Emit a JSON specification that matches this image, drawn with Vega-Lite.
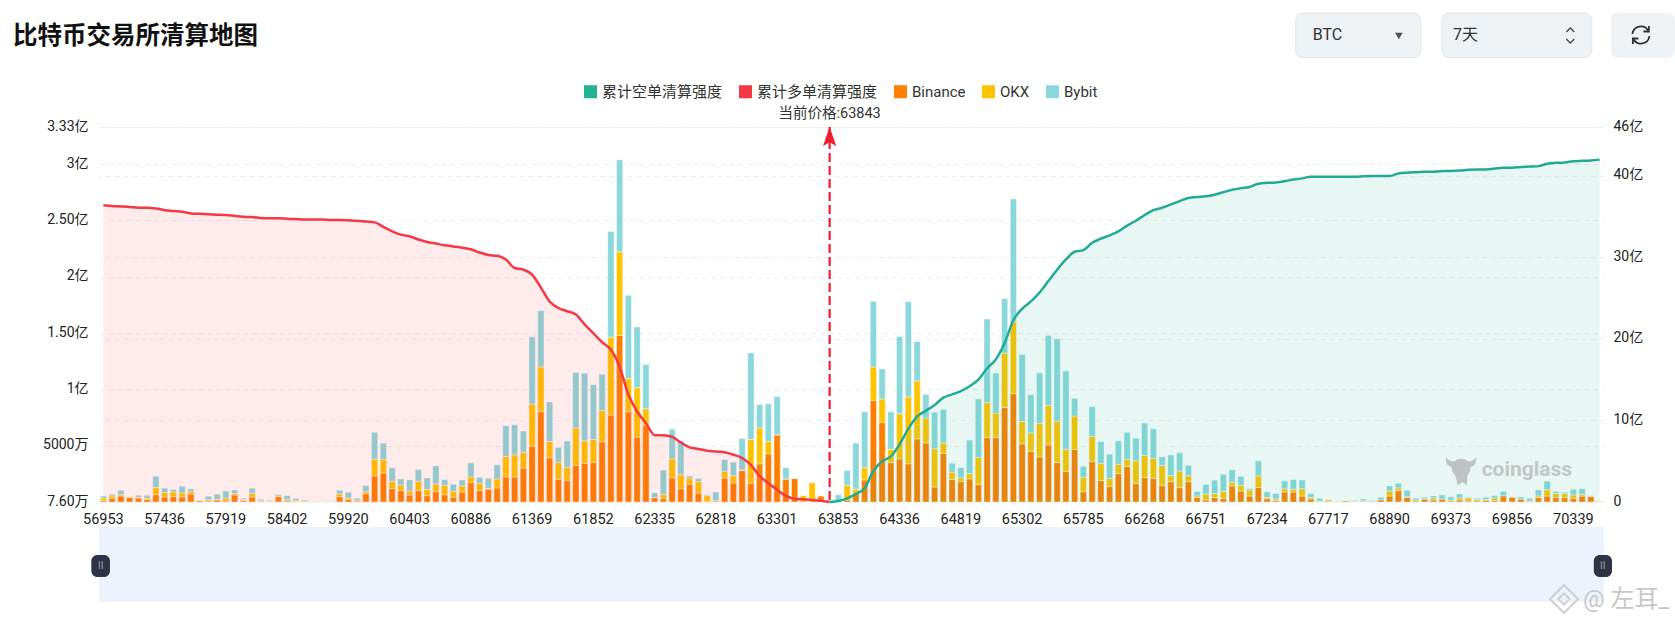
{
  "$schema": "https://vega.github.io/schema/vega-lite/v6.json",
  "autosize": "none",
  "padding": {"left": 99, "top": 127, "right": 71, "bottom": 123},
  "width": 1505,
  "height": 375,
  "background": "#ffffff",
  "title": {
    "text": "比特币交易所清算地图",
    "anchor": "start",
    "frame": "group",
    "dx": -86,
    "offset": -37,
    "font": "Noto Sans CJK SC",
    "fontSize": 24.5,
    "fontWeight": "bold",
    "color": "#111111"
  },
  "config": {
    "view": {"stroke": null},
    "text": {"font": "Roboto, 'Noto Sans CJK SC', sans-serif"}
  },
  "layer": [
    {
      "data": {"values": [
        {"price":"56953","Binance":0.012,"OKX":0.024,"Bybit":0.018,"long":36.4},
        {"price":"57022","Binance":0.03,"OKX":0.024,"Bybit":0.015,"long":36.3},
        {"price":"57091","Binance":0.053,"OKX":0.012,"Bybit":0.039,"long":36.25},
        {"price":"57160","Binance":0.039,"OKX":0.009,"Bybit":0,"long":36.2},
        {"price":"57229","Binance":0.036,"OKX":0.006,"Bybit":0.018,"long":36.1},
        {"price":"57298","Binance":0.021,"OKX":0.015,"Bybit":0.024,"long":36.1},
        {"price":"57367","Binance":0.065,"OKX":0.065,"Bybit":0.098,"long":36},
        {"price":"57436","Binance":0.045,"OKX":0.039,"Bybit":0.039,"long":35.8},
        {"price":"57505","Binance":0.048,"OKX":0.042,"Bybit":0.021,"long":35.7},
        {"price":"57574","Binance":0.045,"OKX":0.036,"Bybit":0.059,"long":35.6},
        {"price":"57643","Binance":0.071,"OKX":0.021,"Bybit":0.024,"long":35.4},
        {"price":"57712","Binance":0.012,"OKX":0.006,"Bybit":0,"long":35.35},
        {"price":"57781","Binance":0.009,"OKX":0.012,"Bybit":0.03,"long":35.3},
        {"price":"57850","Binance":0.018,"OKX":0.006,"Bybit":0.045,"long":35.25},
        {"price":"57919","Binance":0.009,"OKX":0.027,"Bybit":0.062,"long":35.2},
        {"price":"57988","Binance":0.062,"OKX":0.015,"Bybit":0.03,"long":35.1},
        {"price":"58057","Binance":0.012,"OKX":0.009,"Bybit":0.012,"long":35},
        {"price":"58126","Binance":0.045,"OKX":0.033,"Bybit":0.045,"long":34.95},
        {"price":"58195","Binance":0.006,"OKX":0.006,"Bybit":0.012,"long":34.85},
        {"price":"58264","Binance":0.003,"OKX":0.003,"Bybit":0.009,"long":34.8},
        {"price":"58333","Binance":0.048,"OKX":0.006,"Bybit":0.012,"long":34.8},
        {"price":"58402","Binance":0.009,"OKX":0.012,"Bybit":0.036,"long":34.75},
        {"price":"58471","Binance":0.006,"OKX":0.006,"Bybit":0.018,"long":34.7},
        {"price":"58540","Binance":0.003,"OKX":0.006,"Bybit":0.009,"long":34.65},
        {"price":"58609","Binance":0.003,"OKX":0.003,"Bybit":0,"long":34.65},
        {"price":"58678","Binance":0,"OKX":0.001,"Bybit":0.001,"long":34.65},
        {"price":"59782","Binance":0,"OKX":0.001,"Bybit":0.003,"long":34.6},
        {"price":"59851","Binance":0.048,"OKX":0.024,"Bybit":0.033,"long":34.6},
        {"price":"59920","Binance":0.021,"OKX":0.015,"Bybit":0.05,"long":34.55},
        {"price":"59989","Binance":0.009,"OKX":0.006,"Bybit":0.018,"long":34.5},
        {"price":"60058","Binance":0.074,"OKX":0.018,"Bybit":0.053,"long":34.4},
        {"price":"60127","Binance":0.232,"OKX":0.149,"Bybit":0.238,"long":34.3},
        {"price":"60196","Binance":0.258,"OKX":0.119,"Bybit":0.146,"long":33.75},
        {"price":"60265","Binance":0.119,"OKX":0.065,"Bybit":0.119,"long":33.2},
        {"price":"60334","Binance":0.101,"OKX":0.05,"Bybit":0.053,"long":32.8},
        {"price":"60403","Binance":0.062,"OKX":0.036,"Bybit":0.098,"long":32.6},
        {"price":"60472","Binance":0.101,"OKX":0.083,"Bybit":0.104,"long":32.2},
        {"price":"60541","Binance":0.056,"OKX":0.056,"Bybit":0.101,"long":31.9},
        {"price":"60610","Binance":0.092,"OKX":0.068,"Bybit":0.16,"long":31.7},
        {"price":"60679","Binance":0.065,"OKX":0.083,"Bybit":0.05,"long":31.5},
        {"price":"60748","Binance":0.042,"OKX":0.053,"Bybit":0.062,"long":31.35},
        {"price":"60817","Binance":0.089,"OKX":0.053,"Bybit":0.053,"long":31.2},
        {"price":"60886","Binance":0.172,"OKX":0.05,"Bybit":0.125,"long":31},
        {"price":"60955","Binance":0.101,"OKX":0.065,"Bybit":0.053,"long":30.6},
        {"price":"61024","Binance":0.113,"OKX":0.009,"Bybit":0.089,"long":30.3},
        {"price":"61093","Binance":0.125,"OKX":0.08,"Bybit":0.125,"long":30.2},
        {"price":"61162","Binance":0.223,"OKX":0.181,"Bybit":0.273,"long":29.75},
        {"price":"61231","Binance":0.223,"OKX":0.196,"Bybit":0.267,"long":28.7},
        {"price":"61300","Binance":0.3,"OKX":0.14,"Bybit":0.19,"long":28.5},
        {"price":"61369","Binance":0.496,"OKX":0.374,"Bybit":0.597,"long":27.9},
        {"price":"61438","Binance":0.802,"OKX":0.398,"Bybit":0.499,"long":26.3},
        {"price":"61507","Binance":0.392,"OKX":0.146,"Bybit":0.35,"long":24.6},
        {"price":"61576","Binance":0.202,"OKX":0.149,"Bybit":0.134,"long":23.8},
        {"price":"61645","Binance":0.193,"OKX":0.113,"Bybit":0.235,"long":23.4},
        {"price":"61714","Binance":0.327,"OKX":0.33,"Bybit":0.493,"long":23},
        {"price":"61783","Binance":0.342,"OKX":0.202,"Bybit":0.6,"long":21.8},
        {"price":"61852","Binance":0.35,"OKX":0.205,"Bybit":0.487,"long":20.7},
        {"price":"61921","Binance":0.535,"OKX":0.276,"Bybit":0.324,"long":19.6},
        {"price":"61990","Binance":0.772,"OKX":0.692,"Bybit":0.939,"long":18.7},
        {"price":"62059","Binance":1.479,"OKX":0.743,"Bybit":0.817,"long":16.6},
        {"price":"62128","Binance":0.802,"OKX":0.294,"Bybit":0.74,"long":13.2},
        {"price":"62197","Binance":0.576,"OKX":0.44,"Bybit":0.538,"long":11.1},
        {"price":"62266","Binance":0.683,"OKX":0.146,"Bybit":0.392,"long":9.7},
        {"price":"62335","Binance":0.039,"OKX":0,"Bybit":0.042,"long":8.2},
        {"price":"62404","Binance":0.03,"OKX":0.036,"Bybit":0.217,"long":8.2},
        {"price":"62473","Binance":0.214,"OKX":0.169,"Bybit":0.264,"long":8},
        {"price":"62542","Binance":0.119,"OKX":0.122,"Bybit":0.303,"long":7.3},
        {"price":"62611","Binance":0.157,"OKX":0.056,"Bybit":0.018,"long":6.7},
        {"price":"62680","Binance":0.08,"OKX":0.101,"Bybit":0.027,"long":6.5},
        {"price":"62749","Binance":0.003,"OKX":0.053,"Bybit":0.009,"long":6.3},
        {"price":"62818","Binance":0.009,"OKX":0.003,"Bybit":0.077,"long":6.2},
        {"price":"62887","Binance":0.214,"OKX":0.056,"Bybit":0.107,"long":6.1},
        {"price":"62956","Binance":0.169,"OKX":0.065,"Bybit":0.119,"long":5.8},
        {"price":"63025","Binance":0.279,"OKX":0.006,"Bybit":0.279,"long":5.4},
        {"price":"63094","Binance":0.166,"OKX":0.389,"Bybit":0.769,"long":4.55},
        {"price":"63163","Binance":0.339,"OKX":0.318,"Bybit":0.208,"long":3.2},
        {"price":"63232","Binance":0.428,"OKX":0.11,"Bybit":0.333,"long":2.3},
        {"price":"63301","Binance":0.597,"OKX":0,"Bybit":0.339,"long":1.5},
        {"price":"63370","Binance":0.205,"OKX":0,"Bybit":0.101,"long":0.75},
        {"price":"63439","Binance":0.211,"OKX":0,"Bybit":0,"long":0.4},
        {"price":"63508","Binance":0,"OKX":0.059,"Bybit":0,"long":0.33},
        {"price":"63577","Binance":0,"OKX":0.172,"Bybit":0,"long":0.25},
        {"price":"63646","Binance":0.056,"OKX":0,"Bybit":0,"long":0.16},
        {"price":"63784","Binance":0,"OKX":0,"Bybit":0,"long":0,"short":0},
        {"price":"63853","Binance":0,"OKX":0,"Bybit":0.065,"short":0.12},
        {"price":"63922","Binance":0.018,"OKX":0.131,"Bybit":0.131,"short":0.45},
        {"price":"63991","Binance":0.077,"OKX":0.036,"Bybit":0.41,"short":1},
        {"price":"64060","Binance":0.196,"OKX":0.11,"Bybit":0.496,"short":1.7},
        {"price":"64129","Binance":0.903,"OKX":0.297,"Bybit":0.582,"short":3.8},
        {"price":"64198","Binance":0.707,"OKX":0.208,"Bybit":0.267,"short":5},
        {"price":"64267","Binance":0.35,"OKX":0.119,"Bybit":0.333,"short":5.6},
        {"price":"64336","Binance":0.383,"OKX":0.401,"Bybit":0.686,"short":7.1},
        {"price":"64405","Binance":0.339,"OKX":0.594,"Bybit":0.846,"short":9},
        {"price":"64474","Binance":0.561,"OKX":0.514,"Bybit":0.35,"short":10.5},
        {"price":"64543","Binance":0.526,"OKX":0.22,"Bybit":0.211,"short":11.2},
        {"price":"64612","Binance":0.134,"OKX":0.339,"Bybit":0.324,"short":11.9},
        {"price":"64681","Binance":0.431,"OKX":0.092,"Bybit":0.3,"short":12.8},
        {"price":"64750","Binance":0.199,"OKX":0.065,"Bybit":0.08,"short":13.2},
        {"price":"64819","Binance":0.181,"OKX":0.033,"Bybit":0.092,"short":13.6},
        {"price":"64888","Binance":0.205,"OKX":0.048,"Bybit":0.297,"short":14.2},
        {"price":"64957","Binance":0.154,"OKX":0.241,"Bybit":0.52,"short":15},
        {"price":"65026","Binance":0.573,"OKX":0.309,"Bybit":0.743,"short":16.4},
        {"price":"65095","Binance":0.573,"OKX":0.217,"Bybit":0.356,"short":17.5},
        {"price":"65164","Binance":0.838,"OKX":0.484,"Bybit":0.484,"short":19.5},
        {"price":"65233","Binance":0.962,"OKX":0.636,"Bybit":1.093,"short":22.3},
        {"price":"65302","Binance":0.517,"OKX":0.199,"Bybit":0.594,"short":23.7},
        {"price":"65371","Binance":0.448,"OKX":0.166,"Bybit":0.339,"short":24.6},
        {"price":"65440","Binance":0.401,"OKX":0.297,"Bybit":0.448,"short":25.7},
        {"price":"65509","Binance":0.508,"OKX":0.35,"Bybit":0.621,"short":27.1},
        {"price":"65578","Binance":0.35,"OKX":0.368,"Bybit":0.731,"short":28.5},
        {"price":"65647","Binance":0.27,"OKX":0.199,"Bybit":0.695,"short":29.75},
        {"price":"65716","Binance":0.466,"OKX":0.297,"Bybit":0.157,"short":30.7},
        {"price":"65785","Binance":0.092,"OKX":0.128,"Bybit":0.098,"short":30.9},
        {"price":"65854","Binance":0.359,"OKX":0.223,"Bybit":0.264,"short":31.8},
        {"price":"65923","Binance":0.19,"OKX":0.151,"Bybit":0.196,"short":32.3},
        {"price":"65992","Binance":0.137,"OKX":0.071,"Bybit":0.217,"short":32.7},
        {"price":"66061","Binance":0.252,"OKX":0.083,"Bybit":0.208,"short":33.2},
        {"price":"66130","Binance":0.315,"OKX":0.065,"Bybit":0.238,"short":33.9},
        {"price":"66199","Binance":0.163,"OKX":0.202,"Bybit":0.202,"short":34.5},
        {"price":"66268","Binance":0.217,"OKX":0.196,"Bybit":0.288,"short":35.2},
        {"price":"66337","Binance":0.208,"OKX":0.178,"Bybit":0.264,"short":35.8},
        {"price":"66406","Binance":0.146,"OKX":0.178,"Bybit":0.077,"short":36.1},
        {"price":"66475","Binance":0.181,"OKX":0.053,"Bybit":0.184,"short":36.5},
        {"price":"66544","Binance":0.128,"OKX":0.146,"Bybit":0.163,"short":36.9},
        {"price":"66613","Binance":0.181,"OKX":0.053,"Bybit":0.092,"short":37.3},
        {"price":"66682","Binance":0.039,"OKX":0.015,"Bybit":0.039,"short":37.4},
        {"price":"66751","Binance":0.018,"OKX":0.053,"Bybit":0.086,"short":37.5},
        {"price":"66820","Binance":0.039,"OKX":0.036,"Bybit":0.119,"short":37.7},
        {"price":"66889","Binance":0.03,"OKX":0.065,"Bybit":0.151,"short":38},
        {"price":"66958","Binance":0.143,"OKX":0.033,"Bybit":0.11,"short":38.3},
        {"price":"67027","Binance":0.098,"OKX":0.05,"Bybit":0.08,"short":38.5},
        {"price":"67096","Binance":0.053,"OKX":0.053,"Bybit":0.012,"short":38.65},
        {"price":"67165","Binance":0.128,"OKX":0.104,"Bybit":0.134,"short":39.05},
        {"price":"67234","Binance":0.03,"OKX":0.012,"Bybit":0.048,"short":39.15},
        {"price":"67303","Binance":0.012,"OKX":0.015,"Bybit":0.048,"short":39.2},
        {"price":"67372","Binance":0.089,"OKX":0.027,"Bybit":0.071,"short":39.35},
        {"price":"67441","Binance":0.089,"OKX":0.024,"Bybit":0.086,"short":39.55},
        {"price":"67510","Binance":0.053,"OKX":0.065,"Bybit":0.077,"short":39.7},
        {"price":"67579","Binance":0.027,"OKX":0.015,"Bybit":0.033,"short":39.9},
        {"price":"67648","Binance":0.003,"OKX":0.006,"Bybit":0.024,"short":39.9},
        {"price":"67717","Binance":0.003,"OKX":0.018,"Bybit":0,"short":39.9},
        {"price":"67786","Binance":0,"OKX":0.003,"Bybit":0.003,"short":39.9},
        {"price":"67855","Binance":0.009,"OKX":0.006,"Bybit":0,"short":39.9},
        {"price":"67924","Binance":0.006,"OKX":0.003,"Bybit":0.006,"short":39.9},
        {"price":"67993","Binance":0.006,"OKX":0.006,"Bybit":0.015,"short":39.95},
        {"price":"68752","Binance":0.003,"OKX":0.003,"Bybit":0.009,"short":40},
        {"price":"68821","Binance":0.021,"OKX":0,"Bybit":0.021,"short":40},
        {"price":"68890","Binance":0.053,"OKX":0.045,"Bybit":0.045,"short":40},
        {"price":"68959","Binance":0.101,"OKX":0.024,"Bybit":0.042,"short":40.3},
        {"price":"69028","Binance":0.039,"OKX":0.009,"Bybit":0.056,"short":40.4},
        {"price":"69097","Binance":0.009,"OKX":0.009,"Bybit":0.015,"short":40.45},
        {"price":"69166","Binance":0.027,"OKX":0,"Bybit":0.015,"short":40.5},
        {"price":"69235","Binance":0.018,"OKX":0.018,"Bybit":0.018,"short":40.5},
        {"price":"69304","Binance":0.027,"OKX":0,"Bybit":0.036,"short":40.6},
        {"price":"69373","Binance":0.009,"OKX":0.009,"Bybit":0.027,"short":40.6},
        {"price":"69442","Binance":0.018,"OKX":0.018,"Bybit":0.036,"short":40.65},
        {"price":"69511","Binance":0.009,"OKX":0.027,"Bybit":0.006,"short":40.75},
        {"price":"69580","Binance":0.009,"OKX":0.015,"Bybit":0.009,"short":40.8},
        {"price":"69649","Binance":0.015,"OKX":0.006,"Bybit":0.021,"short":40.8},
        {"price":"69718","Binance":0.012,"OKX":0.024,"Bybit":0.021,"short":40.9},
        {"price":"69787","Binance":0.056,"OKX":0,"Bybit":0.039,"short":41},
        {"price":"69856","Binance":0.045,"OKX":0,"Bybit":0,"short":41},
        {"price":"69925","Binance":0.027,"OKX":0,"Bybit":0.018,"short":41.1},
        {"price":"69994","Binance":0.009,"OKX":0,"Bybit":0.024,"short":41.15},
        {"price":"70063","Binance":0.039,"OKX":0.015,"Bybit":0.053,"short":41.2},
        {"price":"70132","Binance":0.053,"OKX":0.056,"Bybit":0.077,"short":41.5},
        {"price":"70201","Binance":0.039,"OKX":0.036,"Bybit":0.018,"short":41.6},
        {"price":"70270","Binance":0.039,"OKX":0.036,"Bybit":0.012,"short":41.65},
        {"price":"70339","Binance":0.033,"OKX":0.03,"Bybit":0.05,"short":41.8},
        {"price":"70408","Binance":0.053,"OKX":0.015,"Bybit":0.05,"short":41.85},
        {"price":"70477","Binance":0.048,"OKX":0.006,"Bybit":0.003,"short":41.9},
        {"price":"70546","Binance":0.006,"OKX":0.003,"Bybit":0,"short":42}
      ]},
      "encoding": {
        "x": {
          "field": "price",
          "type": "ordinal",
          "title": null,
          "scale": {"paddingInner": 0.28, "paddingOuter": 0.14},
          "axis": {
            "values": ["56953","57436","57919","58402","59920","60403","60886","61369","61852","62335","62818","63301","63853","64336","64819","65302","65785","66268","66751","67234","67717","68890","69373","69856","70339"],
            "labelAngle": 0,
            "labelFont": "Roboto",
            "labelFontSize": 14.5,
            "labelColor": "#222222",
            "labelPadding": 10,
            "labelOverlap": false,
            "ticks": false,
            "domain": false,
            "grid": false
          }
        }
      },
      "layer": [
        {
          "transform": [
            {"fold": ["Binance","OKX","Bybit"], "as": ["exchange","value"]},
            {"calculate": "indexof(['Binance','OKX','Bybit'], datum.exchange)", "as": "rank"}
          ],
          "mark": {"type": "bar", "stroke": "#ffffff", "strokeOpacity": 0.45, "strokeWidth": 1},
          "encoding": {
            "y": {
              "field": "value",
              "type": "quantitative",
              "title": null,
              "scale": {"domain": [0, 3.33], "nice": false},
              "axis": {
                "orient": "left",
                "values": [0, 0.5, 1, 1.5, 2, 2.5, 3, 3.33],
                "labelExpr": "datum.value == 0 ? '7.60万' : datum.value == 0.5 ? '5000万' : datum.value == 1.5 ? '1.50亿' : datum.value == 2.5 ? '2.50亿' : datum.value + '亿'",
                "labelFont": "Roboto, 'Noto Sans CJK SC', sans-serif",
                "labelFontSize": 14,
                "labelColor": "#222222",
                "labelPadding": 11,
                "labelOffset": -1,
                "ticks": false,
                "domain": false,
                "grid": true,
                "gridColor": "#eeeeee",
                "gridDash": [5, 4]
              }
            },
            "color": {
              "field": "exchange",
              "type": "nominal",
              "scale": {
                "domain": ["累计空单清算强度","累计多单清算强度","Binance","OKX","Bybit"],
                "range": ["#22b295","#f63845","#ff8000","#ffc400","#8bd8dc"]
              },
              "legend": {
                "orient": "none",
                "legendX": 484,
                "legendY": -43,
                "direction": "horizontal",
                "columns": 5,
                "columnPadding": 15,
                "title": null,
                "symbolType": "square",
                "symbolSize": 169,
                "symbolStrokeWidth": 0,
                "symbolOpacity": 1,
                "labelFont": "Roboto, 'Noto Sans CJK SC', sans-serif",
                "labelFontSize": 15,
                "labelColor": "#333333",
                "labelOffset": 4
              }
            },
            "order": {"field": "rank", "type": "quantitative"}
          }
        },
        {
          "layer": [
            {
              "mark": {"type": "area", "color": "#f63845", "opacity": 0.1, "interpolate": "monotone"},
              "encoding": {
                "y": {
                  "field": "long",
                  "type": "quantitative",
                  "title": null,
                  "scale": {"domain": [0, 46], "nice": false},
                  "axis": {
                    "orient": "right",
                    "values": [0, 10, 20, 30, 40, 46],
                    "labelExpr": "datum.value == 0 ? '0' : datum.value + '亿'",
                    "labelFont": "Roboto, 'Noto Sans CJK SC', sans-serif",
                    "labelFontSize": 14,
                    "labelColor": "#222222",
                    "labelPadding": 9,
                    "labelOffset": -1,
                    "ticks": false,
                    "domain": false,
                    "grid": true,
                    "gridColor": "#eeeeee",
                    "gridDash": [5, 4]
                  }
                }
              }
            },
            {
              "mark": {"type": "area", "color": "#22b295", "opacity": 0.1, "interpolate": "monotone"},
              "encoding": {
                "y": {"field": "short", "type": "quantitative", "title": null, "scale": {"domain": [0, 46], "nice": false}}
              }
            },
            {
              "mark": {"type": "line", "color": "#f63845", "strokeWidth": 2.5, "interpolate": "monotone"},
              "encoding": {
                "y": {"field": "long", "type": "quantitative", "title": null, "scale": {"domain": [0, 46], "nice": false}}
              }
            },
            {
              "mark": {"type": "line", "color": "#22ab94", "strokeWidth": 2.5, "interpolate": "monotone"},
              "encoding": {
                "y": {"field": "short", "type": "quantitative", "title": null, "scale": {"domain": [0, 46], "nice": false}}
              }
            },
            {
              "data": {"values": [{"price": "63784", "top": 46, "bottom": 0, "arrow": 44.83, "label": "当前价格:63843"}]},
              "mark": {"type": "rule", "color": "#ee1c2e", "strokeWidth": 2.2, "strokeDash": [9, 4]},
              "encoding": {
                "y": {"field": "top", "type": "quantitative", "title": null, "scale": {"domain": [0, 46], "nice": false}},
                "y2": {"field": "bottom"}
              }
            },
            {
              "data": {"values": [{"price": "63784", "top": 46, "bottom": 0, "arrow": 44.83, "label": "当前价格:63843"}]},
              "mark": {"type": "point", "shape": "M0,-1L0.7,1L0,0.6L-0.7,1Z", "filled": true, "color": "#ee1c2e", "opacity": 1, "size": 361},
              "encoding": {
                "y": {"field": "arrow", "type": "quantitative", "title": null, "scale": {"domain": [0, 46], "nice": false}}
              }
            },
            {
              "data": {"values": [{"price": "63784", "top": 46, "bottom": 0, "arrow": 44.83, "label": "当前价格:63843"}]},
              "mark": {"type": "text", "fontSize": 14.5, "color": "#333333", "dy": -13.5},
              "encoding": {
                "y": {"field": "top", "type": "quantitative", "title": null, "scale": {"domain": [0, 46], "nice": false}},
                "text": {"field": "label"}
              }
            }
          ]
        }
      ],
      "resolve": {"scale": {"y": "independent"}}
    },
    {
      "encoding": {
        "x": {"scale": {"domain": [0, 100], "nice": false, "zero": false}, "axis": null, "title": null},
        "y": {"scale": {"domain": [0, 100], "nice": false, "zero": false}, "axis": null, "title": null}
      },
      "layer": [
        {
          "data": {"values": [{"part": "slider"}]},
          "mark": {"type": "rect", "color": "#eef2fd"},
          "encoding": {
            "x": {"datum": 0, "type": "quantitative", "scale": {"domain": [0, 100], "nice": false, "zero": false}, "axis": null},
            "x2": {"datum": 100},
            "y": {"datum": -6.67, "type": "quantitative", "scale": {"domain": [0, 100], "nice": false, "zero": false}, "axis": null},
            "y2": {"datum": -26.67}
          }
        },
        {
          "data": {"values": [{"part": "handle"}]},
          "mark": {"type": "rect", "color": "#2f3345", "cornerRadius": 6},
          "encoding": {
            "x": {"datum": -0.51, "type": "quantitative", "scale": {"domain": [0, 100], "nice": false, "zero": false}, "axis": null},
            "x2": {"datum": 0.73},
            "y": {"datum": -14.13, "type": "quantitative", "scale": {"domain": [0, 100], "nice": false, "zero": false}, "axis": null},
            "y2": {"datum": -20}
          }
        },
        {
          "data": {"values": [{"part": "handle"}]},
          "mark": {"type": "rect", "color": "#2f3345", "cornerRadius": 6},
          "encoding": {
            "x": {"datum": 99.32, "type": "quantitative", "scale": {"domain": [0, 100], "nice": false, "zero": false}, "axis": null},
            "x2": {"datum": 100.53},
            "y": {"datum": -14.13, "type": "quantitative", "scale": {"domain": [0, 100], "nice": false, "zero": false}, "axis": null},
            "y2": {"datum": -20}
          }
        },
        {
          "data": {"values": [{"label": "II"}]},
          "mark": {"type": "text", "fontSize": 10, "color": "#9a9dab"},
          "encoding": {
            "x": {"datum": 0.11, "type": "quantitative", "scale": {"domain": [0, 100], "nice": false, "zero": false}, "axis": null},
            "y": {"datum": -17.07, "type": "quantitative", "scale": {"domain": [0, 100], "nice": false, "zero": false}, "axis": null},
            "text": {"field": "label"}
          }
        },
        {
          "data": {"values": [{"label": "II"}]},
          "mark": {"type": "text", "fontSize": 10, "color": "#9a9dab"},
          "encoding": {
            "x": {"datum": 99.92, "type": "quantitative", "scale": {"domain": [0, 100], "nice": false, "zero": false}, "axis": null},
            "y": {"datum": -17.07, "type": "quantitative", "scale": {"domain": [0, 100], "nice": false, "zero": false}, "axis": null},
            "text": {"field": "label"}
          }
        },
        {
          "data": {"values": [{"part": "button"}]},
          "mark": {"type": "rect", "color": "#eef2f5", "stroke": "#e2e7ea", "cornerRadius": 7},
          "encoding": {
            "x": {"datum": 79.52, "type": "quantitative", "scale": {"domain": [0, 100], "nice": false, "zero": false}, "axis": null},
            "x2": {"datum": 87.83},
            "y": {"datum": 130.4, "type": "quantitative", "scale": {"domain": [0, 100], "nice": false, "zero": false}, "axis": null},
            "y2": {"datum": 118.5}
          }
        },
        {
          "data": {"values": [{"part": "button"}]},
          "mark": {"type": "rect", "color": "#eef2f5", "stroke": "#e2e7ea", "cornerRadius": 7},
          "encoding": {
            "x": {"datum": 89.23, "type": "quantitative", "scale": {"domain": [0, 100], "nice": false, "zero": false}, "axis": null},
            "x2": {"datum": 99.19},
            "y": {"datum": 130.4, "type": "quantitative", "scale": {"domain": [0, 100], "nice": false, "zero": false}, "axis": null},
            "y2": {"datum": 118.5}
          }
        },
        {
          "data": {"values": [{"part": "button"}]},
          "mark": {"type": "rect", "color": "#eef2f5", "cornerRadius": 7},
          "encoding": {
            "x": {"datum": 100.47, "type": "quantitative", "scale": {"domain": [0, 100], "nice": false, "zero": false}, "axis": null},
            "x2": {"datum": 104.7},
            "y": {"datum": 130.4, "type": "quantitative", "scale": {"domain": [0, 100], "nice": false, "zero": false}, "axis": null},
            "y2": {"datum": 118.5}
          }
        },
        {
          "data": {"values": [{"label": "BTC"}]},
          "mark": {"type": "text", "align": "left", "fontSize": 16, "color": "#333333"},
          "encoding": {
            "x": {"datum": 80.65, "type": "quantitative", "scale": {"domain": [0, 100], "nice": false, "zero": false}, "axis": null},
            "y": {"datum": 124.53, "type": "quantitative", "scale": {"domain": [0, 100], "nice": false, "zero": false}, "axis": null},
            "text": {"field": "label"}
          }
        },
        {
          "data": {"values": [{"label": "7天"}]},
          "mark": {"type": "text", "align": "left", "fontSize": 16, "color": "#333333"},
          "encoding": {
            "x": {"datum": 89.96, "type": "quantitative", "scale": {"domain": [0, 100], "nice": false, "zero": false}, "axis": null},
            "y": {"datum": 124.53, "type": "quantitative", "scale": {"domain": [0, 100], "nice": false, "zero": false}, "axis": null},
            "text": {"field": "label"}
          }
        },
        {
          "data": {"values": [{"part": "caret"}]},
          "mark": {"type": "point", "shape": "triangle-down", "filled": true, "color": "#555555", "opacity": 1, "size": 60},
          "encoding": {
            "x": {"datum": 86.37, "type": "quantitative", "scale": {"domain": [0, 100], "nice": false, "zero": false}, "axis": null},
            "y": {"datum": 124.27, "type": "quantitative", "scale": {"domain": [0, 100], "nice": false, "zero": false}, "axis": null}
          }
        },
        {
          "data": {"values": [{"part": "chevron"}]},
          "mark": {"type": "point", "shape": "M-1,0.5L0,-0.5L1,0.5", "filled": false, "color": "#444444", "opacity": 1, "strokeWidth": 1.3, "size": 64},
          "encoding": {
            "x": {"datum": 97.76, "type": "quantitative", "scale": {"domain": [0, 100], "nice": false, "zero": false}, "axis": null},
            "y": {"datum": 125.87, "type": "quantitative", "scale": {"domain": [0, 100], "nice": false, "zero": false}, "axis": null}
          }
        },
        {
          "data": {"values": [{"part": "chevron"}]},
          "mark": {"type": "point", "shape": "M-1,-0.5L0,0.5L1,-0.5", "filled": false, "color": "#444444", "opacity": 1, "strokeWidth": 1.3, "size": 64},
          "encoding": {
            "x": {"datum": 97.76, "type": "quantitative", "scale": {"domain": [0, 100], "nice": false, "zero": false}, "axis": null},
            "y": {"datum": 122.93, "type": "quantitative", "scale": {"domain": [0, 100], "nice": false, "zero": false}, "axis": null}
          }
        },
        {
          "data": {"values": [{"part": "refresh"}]},
          "mark": {"type": "point", "shape": "M-0.85,-0.1A0.85,0.85 0 0 1 0.75,-0.4M0.85,0.1A0.85,0.85 0 0 1 -0.75,0.4M0.8,-0.9L0.8,-0.35L0.25,-0.35M-0.8,0.9L-0.8,0.35L-0.25,0.35", "filled": false, "color": "#333333", "opacity": 1, "strokeWidth": 1.8, "size": 400},
          "encoding": {
            "x": {"datum": 102.45, "type": "quantitative", "scale": {"domain": [0, 100], "nice": false, "zero": false}, "axis": null},
            "y": {"datum": 124.53, "type": "quantitative", "scale": {"domain": [0, 100], "nice": false, "zero": false}, "axis": null}
          }
        },
        {
          "data": {"values": [{"part": "logo"}]},
          "mark": {"type": "point", "shape": "M-0.95,-0.8Q-0.7,-0.5 -0.45,-0.55Q0,-0.85 0.45,-0.55Q0.7,-0.5 0.95,-0.8Q1,-0.3 0.6,-0.2Q0.55,0.2 0.4,0.35L0.35,0.95L0.1,0.75L-0.2,0.95L-0.35,0.35Q-0.55,0.2 -0.6,-0.2Q-1,-0.3 -0.95,-0.8Z", "filled": true, "color": "#bfc2c3", "opacity": 1, "size": 1024},
          "encoding": {
            "x": {"datum": 90.5, "type": "quantitative", "scale": {"domain": [0, 100], "nice": false, "zero": false}, "axis": null},
            "y": {"datum": 8.53, "type": "quantitative", "scale": {"domain": [0, 100], "nice": false, "zero": false}, "axis": null}
          }
        },
        {
          "data": {"values": [{"label": "coinglass"}]},
          "mark": {"type": "text", "align": "left", "fontSize": 21, "fontWeight": "bold", "color": "#c3c6c6"},
          "encoding": {
            "x": {"datum": 91.87, "type": "quantitative", "scale": {"domain": [0, 100], "nice": false, "zero": false}, "axis": null},
            "y": {"datum": 8.53, "type": "quantitative", "scale": {"domain": [0, 100], "nice": false, "zero": false}, "axis": null},
            "text": {"field": "label"}
          }
        },
        {
          "data": {"values": [{"part": "mark"}]},
          "mark": {"type": "point", "shape": "M0,-1L1,0L0,1L-1,0ZM0,-0.4L0.4,0L0,0.4L-0.4,0Z", "filled": false, "color": "#d0d0d0", "opacity": 1, "strokeWidth": 2, "size": 784},
          "encoding": {
            "x": {"datum": 97.34, "type": "quantitative", "scale": {"domain": [0, 100], "nice": false, "zero": false}, "axis": null},
            "y": {"datum": -25.87, "type": "quantitative", "scale": {"domain": [0, 100], "nice": false, "zero": false}, "axis": null}
          }
        },
        {
          "data": {"values": [{"label": "@ 左耳_"}]},
          "mark": {"type": "text", "align": "left", "fontSize": 24, "color": "#c8c8c8"},
          "encoding": {
            "x": {"datum": 98.6, "type": "quantitative", "scale": {"domain": [0, 100], "nice": false, "zero": false}, "axis": null},
            "y": {"datum": -26.13, "type": "quantitative", "scale": {"domain": [0, 100], "nice": false, "zero": false}, "axis": null},
            "text": {"field": "label"}
          }
        }
      ]
    }
  ],
  "resolve": {"scale": {"x": "independent", "y": "independent"}}
}
